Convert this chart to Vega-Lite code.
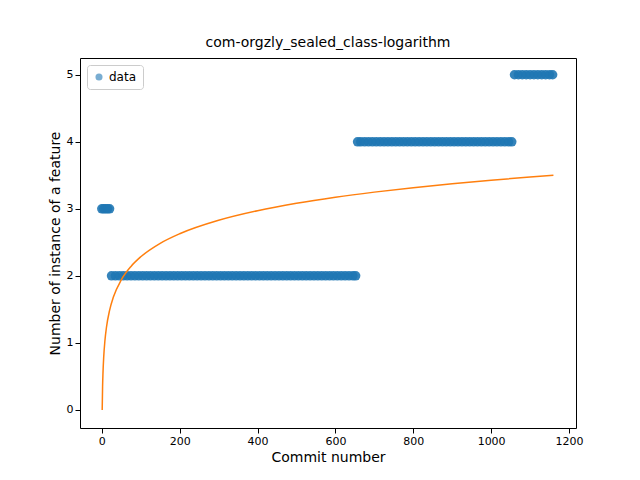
{
  "$schema": "https://vega.github.io/schema/vega-lite/v6.json",
  "autosize": "none",
  "padding": {"left": 80, "top": 58, "right": 64, "bottom": 52},
  "width": 496,
  "height": 370,
  "title": {"text": "com-orgzly_sealed_class-logarithm", "fontSize": 14, "font": "DejaVu Sans", "fontWeight": "normal", "offset": 8},
  "config": {
    "view": {"stroke": "black"},
    "axis": {"grid": false, "labelFont": "DejaVu Sans", "titleFont": "DejaVu Sans", "labelFontSize": 11, "titleFontSize": 14, "titleFontWeight": "normal", "domain": false, "tickColor": "black", "labelColor": "black", "titleColor": "black", "format": "d"}
  },
  "datasets": {
    "points": [
      {"x":0,"y":3},{"x":5,"y":3},{"x":10,"y":3},{"x":15,"y":3},{"x":20,"y":3},
      {"x":25,"y":2},{"x":35,"y":2},{"x":45,"y":2},{"x":55,"y":2},{"x":65,"y":2},{"x":75,"y":2},{"x":85,"y":2},{"x":95,"y":2},{"x":105,"y":2},{"x":115,"y":2},
      {"x":125,"y":2},{"x":135,"y":2},{"x":145,"y":2},{"x":155,"y":2},{"x":165,"y":2},{"x":175,"y":2},{"x":185,"y":2},{"x":195,"y":2},{"x":205,"y":2},{"x":215,"y":2},
      {"x":225,"y":2},{"x":235,"y":2},{"x":245,"y":2},{"x":255,"y":2},{"x":265,"y":2},{"x":275,"y":2},{"x":285,"y":2},{"x":295,"y":2},{"x":305,"y":2},{"x":315,"y":2},
      {"x":325,"y":2},{"x":335,"y":2},{"x":345,"y":2},{"x":355,"y":2},{"x":365,"y":2},{"x":375,"y":2},{"x":385,"y":2},{"x":395,"y":2},{"x":405,"y":2},{"x":415,"y":2},
      {"x":425,"y":2},{"x":435,"y":2},{"x":445,"y":2},{"x":455,"y":2},{"x":465,"y":2},{"x":475,"y":2},{"x":485,"y":2},{"x":495,"y":2},{"x":505,"y":2},{"x":515,"y":2},
      {"x":525,"y":2},{"x":535,"y":2},{"x":545,"y":2},{"x":555,"y":2},{"x":565,"y":2},{"x":575,"y":2},{"x":585,"y":2},{"x":595,"y":2},{"x":605,"y":2},{"x":615,"y":2},
      {"x":625,"y":2},{"x":635,"y":2},{"x":645,"y":2},{"x":652,"y":2},
      {"x":657,"y":4},{"x":665,"y":4},{"x":675,"y":4},{"x":685,"y":4},{"x":695,"y":4},{"x":705,"y":4},{"x":715,"y":4},{"x":725,"y":4},{"x":735,"y":4},{"x":745,"y":4},
      {"x":755,"y":4},{"x":765,"y":4},{"x":775,"y":4},{"x":785,"y":4},{"x":795,"y":4},{"x":805,"y":4},{"x":815,"y":4},{"x":825,"y":4},{"x":835,"y":4},{"x":845,"y":4},
      {"x":855,"y":4},{"x":865,"y":4},{"x":875,"y":4},{"x":885,"y":4},{"x":895,"y":4},{"x":905,"y":4},{"x":915,"y":4},{"x":925,"y":4},{"x":935,"y":4},{"x":945,"y":4},
      {"x":955,"y":4},{"x":965,"y":4},{"x":975,"y":4},{"x":985,"y":4},{"x":995,"y":4},{"x":1005,"y":4},{"x":1015,"y":4},{"x":1025,"y":4},{"x":1035,"y":4},{"x":1045,"y":4},{"x":1053,"y":4},
      {"x":1060,"y":5},{"x":1070,"y":5},{"x":1080,"y":5},{"x":1090,"y":5},{"x":1100,"y":5},{"x":1110,"y":5},{"x":1120,"y":5},{"x":1130,"y":5},{"x":1140,"y":5},{"x":1150,"y":5},{"x":1158,"y":5}
    ],
    "curve": [
      {"x":1,"y":0},{"x":2,"y":0.344},{"x":3,"y":0.545},{"x":5,"y":0.798},{"x":8,"y":1.031},{"x":12,"y":1.233},{"x":20,"y":1.486},{"x":30,"y":1.687},
      {"x":50,"y":1.94},{"x":75,"y":2.141},{"x":100,"y":2.284},{"x":150,"y":2.485},{"x":200,"y":2.628},{"x":300,"y":2.829},{"x":400,"y":2.972},
      {"x":500,"y":3.083},{"x":600,"y":3.173},{"x":700,"y":3.249},{"x":800,"y":3.316},{"x":900,"y":3.374},{"x":1000,"y":3.426},{"x":1100,"y":3.474},{"x":1160,"y":3.5}
    ]
  },
  "layer": [
    {
      "data": {"name": "points"},
      "transform": [{"calculate": "'data'", "as": "series"}],
      "mark": {"type": "circle", "size": 90, "opacity": 0.9, "strokeWidth": 0},
      "encoding": {
        "x": {"field": "x", "type": "quantitative", "title": "Commit number", "scale": {"domain": [-56, 1218], "nice": false, "zero": false}, "axis": {"values": [0,200,400,600,800,1000,1200]}},
        "y": {"field": "y", "type": "quantitative", "title": "Number of instance of a feature", "scale": {"domain": [-0.27, 5.25], "nice": false, "zero": false}, "axis": {"values": [0,1,2,3,4,5]}},
        "color": {"field": "series", "type": "nominal", "scale": {"domain": ["data"], "range": ["#1f77b4"]},
          "legend": {"title": null, "orient": "top-left", "offset": 7, "labelFont": "DejaVu Sans", "labelFontSize": 12, "strokeColor": "#cccccc", "fillColor": "white", "padding": 6, "cornerRadius": 3, "symbolOpacity": 0.6, "symbolSize": 50}}
      }
    },
    {
      "data": {"name": "curve"},
      "mark": {"type": "line", "color": "#ff7f0e", "strokeWidth": 1.5, "interpolate": "monotone"},
      "encoding": {"x": {"field": "x", "type": "quantitative"}, "y": {"field": "y", "type": "quantitative"}}
    }
  ]
}
